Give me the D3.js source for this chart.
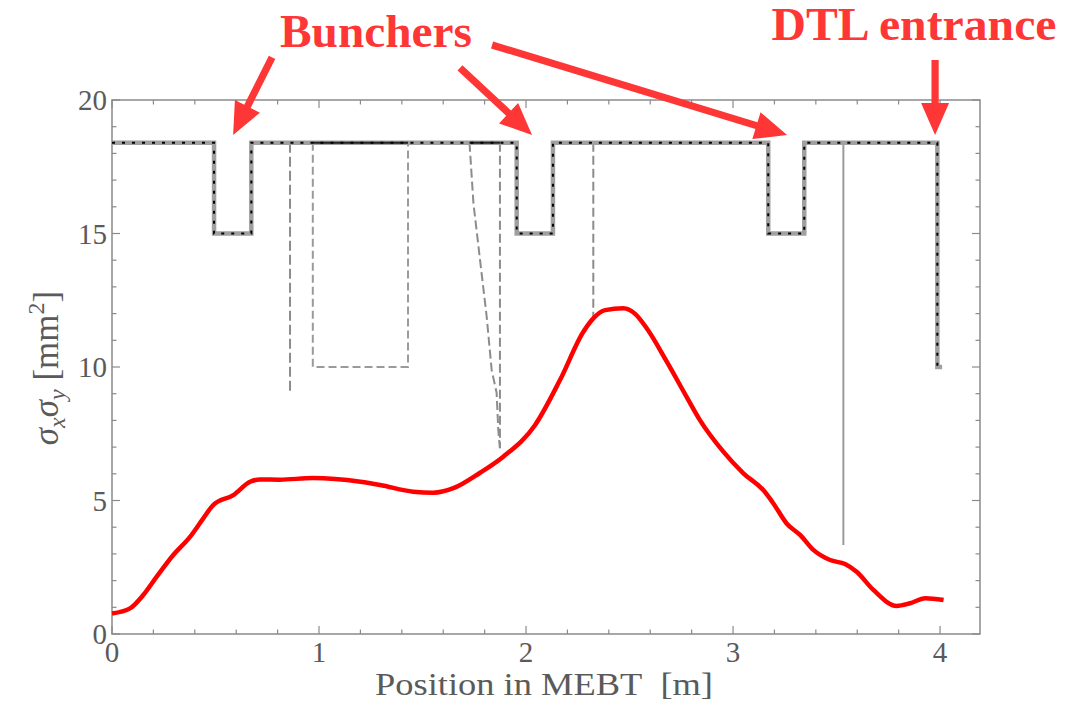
<!DOCTYPE html>
<html>
<head>
<meta charset="utf-8">
<script src="https://cdn.jsdelivr.net/npm/d3@7"></script>
<style>
  body { margin: 0; background: #fff; }
  svg { display: block; }
</style>
</head>
<body>
<svg id="chart" width="1065" height="713"></svg>
<script>
// Beam size product along the MEBT (red curve)
const beamSize = [
  [0, 0.77], [0.087, 0.96], [0.151, 1.46], [0.216, 2.15], [0.296, 2.96], [0.377, 3.64],
  [0.441, 4.33], [0.49, 4.84], [0.586, 5.2], [0.667, 5.7], [0.715, 5.79], [0.81, 5.78],
  [0.97, 5.84], [1.2, 5.7], [1.295, 5.58], [1.455, 5.33], [1.552, 5.29], [1.649, 5.46],
  [1.778, 6.04], [1.89, 6.64], [2.044, 7.83], [2.164, 9.51], [2.277, 11.32], [2.325, 11.82],
  [2.382, 12.13], [2.47, 12.2], [2.527, 11.99], [2.583, 11.45], [2.68, 10.2], [2.775, 8.89],
  [2.84, 8.01], [2.953, 6.83], [3.05, 6.02], [3.146, 5.39], [3.195, 4.89], [3.259, 4.14],
  [3.324, 3.71], [3.388, 3.15], [3.469, 2.77], [3.541, 2.62], [3.597, 2.33], [3.678, 1.65],
  [3.79, 1.05], [3.855, 1.15], [3.928, 1.34], [4.017, 1.27]
];

// Beam pipe aperture with the three bunchers and DTL entrance
const aperture = [
  [0, 18.4], [0.493, 18.4], [0.493, 15], [0.673, 15], [0.673, 18.4],
  [1.955, 18.4], [1.955, 15], [2.13, 15], [2.13, 18.4],
  [3.17, 18.4], [3.17, 15], [3.344, 15], [3.344, 18.4],
  [3.987, 18.4], [3.987, 10], [4.01, 10]
];

// Scrapers / chopper limits
const scraperA = [[0.86, 18.4], [0.86, 9.1]];
const scraperBox = [[0.97, 18.4], [0.97, 10], [1.43, 10], [1.43, 18.4]];
const scraperSlant = [[1.727, 18.4], [1.746, 16.13], [1.778, 14.0], [1.81, 11.88],
  [1.834, 9.89], [1.858, 9.03], [1.866, 7.64], [1.874, 6.95]];
const scraperB = [[1.874, 18.4], [1.874, 6.97]];
const scraperC = [[2.325, 18.4], [2.325, 11.8]];
const scraperD = [[3.533, 18.4], [3.533, 3.33]];
const topSolid = [[[0.97, 18.4], [1.43, 18.4]], [[1.727, 18.4], [1.874, 18.4]]];

const xTicks = [0, 1, 2, 3, 4];
const yTicks = [0, 5, 10, 15, 20];

// Annotation arrows, [start, tip] in data units
const arrows = [
  [[0.773, 21.6], [0.585, 18.69]],
  [[1.681, 21.2], [2.029, 18.69]],
  [[1.836, 22.06], [3.261, 18.69]],
  [[3.976, 21.5], [3.976, 18.69]]
];

const svg = d3.select("#chart");
const plotLeft = 112, plotRight = 980, plotTop = 100, plotBottom = 634;

const x = d3.scaleLinear().domain([0, 4.193]).range([plotLeft, plotRight]);
const y = d3.scaleLinear().domain([0, 20]).range([plotBottom, plotTop]);

const grey = "#8a8a8a";
const textGrey = "#5a5a5a";
const red = "#ff3636";

const line = d3.line().x(d => x(d[0])).y(d => y(d[1]));

// Frame
svg.append("rect")
   .attr("x", plotLeft).attr("y", plotTop)
   .attr("width", plotRight - plotLeft).attr("height", plotBottom - plotTop)
   .style("fill", "none").style("stroke", grey).style("stroke-width", 1.5);

// Ticks (inward on all four sides)
const xMinor = d3.range(0, 4.2, 0.2);
const yMinor = d3.range(0, 21, 1);
const tickG = svg.append("g").style("stroke", grey).style("stroke-width", 1.2);

xMinor.forEach(v => {
  let len = xTicks.some(t => Math.abs(t - v) < 1e-6) ? 8 : 4.5;
  tickG.append("line").attr("x1", x(v)).attr("x2", x(v)).attr("y1", plotBottom).attr("y2", plotBottom - len);
  tickG.append("line").attr("x1", x(v)).attr("x2", x(v)).attr("y1", plotTop).attr("y2", plotTop + len);
});
yMinor.forEach(v => {
  let len = yTicks.includes(v) ? 8 : 4.5;
  tickG.append("line").attr("x1", plotLeft).attr("x2", plotLeft + len).attr("y1", y(v)).attr("y2", y(v));
  tickG.append("line").attr("x1", plotRight).attr("x2", plotRight - len).attr("y1", y(v)).attr("y2", y(v));
});

// Tick labels
const labelFont = "'Liberation Serif', 'Times New Roman', serif";
svg.append("g").selectAll("text").data(xTicks).join("text")
   .attr("x", d => x(d)).attr("y", 662)
   .attr("text-anchor", "middle")
   .style("font-family", labelFont).style("font-size", "29px").style("fill", textGrey)
   .text(d => d);

svg.append("g").selectAll("text").data(yTicks).join("text")
   .attr("x", 107).attr("y", d => y(d) + 10)
   .attr("text-anchor", "end")
   .style("font-family", labelFont).style("font-size", "29px").style("fill", textGrey)
   .text(d => d);

// Axis titles
svg.append("text")
   .attr("x", 544).attr("y", 695)
   .attr("text-anchor", "middle")
   .attr("textLength", 338).attr("lengthAdjust", "spacingAndGlyphs")
   .style("font-family", labelFont).style("font-size", "32px").style("fill", textGrey)
   .text("Position in MEBT\u00a0\u00a0[m]");

let yLab = svg.append("text")
   .attr("transform", "translate(58,368) rotate(-90)")
   .attr("text-anchor", "middle")
   .style("font-family", labelFont).style("font-size", "35px").style("fill", textGrey);
yLab.append("tspan").style("font-style", "italic").text("σ");
yLab.append("tspan").style("font-style", "italic").style("font-size", "24px").attr("dy", 7).text("x");
yLab.append("tspan").style("font-style", "italic").attr("dy", -7).text("σ");
yLab.append("tspan").style("font-style", "italic").style("font-size", "24px").attr("dy", 7).text("y");
yLab.append("tspan").attr("dy", -7).text("\u00a0[mm");
yLab.append("tspan").style("font-size", "24px").attr("dy", -14).text("2");
yLab.append("tspan").attr("dy", 14).text("]");

// Scrapers
const plot = svg.append("g");
plot.append("path").datum(scraperA).attr("d", line)
    .style("fill", "none").style("stroke", "#8c8c8c").style("stroke-width", 2)
    .style("stroke-dasharray", "10 4");
plot.append("path").datum(scraperBox).attr("d", line)
    .style("fill", "none").style("stroke", "#9a9a9a").style("stroke-width", 2)
    .style("stroke-dasharray", "8 4");
plot.append("path").datum(scraperSlant).attr("d", line)
    .style("fill", "none").style("stroke", "#8c8c8c").style("stroke-width", 2)
    .style("stroke-dasharray", "9 4");
plot.append("path").datum(scraperB).attr("d", line)
    .style("fill", "none").style("stroke", "#8c8c8c").style("stroke-width", 2)
    .style("stroke-dasharray", "9 4");
plot.append("path").datum(scraperC).attr("d", line)
    .style("fill", "none").style("stroke", "#8c8c8c").style("stroke-width", 2)
    .style("stroke-dasharray", "9 4");
plot.append("path").datum(scraperD).attr("d", line)
    .style("fill", "none").style("stroke", "#9a9a9a").style("stroke-width", 2);

// Aperture: thick grey with black dotted overlay
plot.append("path").datum(aperture).attr("d", line)
    .style("fill", "none").style("stroke", "#a0a0a0").style("stroke-width", 4.5);
topSolid.forEach(seg => {
  plot.append("path").datum(seg).attr("d", line)
      .style("fill", "none").style("stroke", "#222").style("stroke-width", 2);
});
plot.append("path").datum(aperture).attr("d", line)
    .style("fill", "none").style("stroke", "#000").style("stroke-width", 2)
    .style("stroke-dasharray", "3 7");

// Beam curve
plot.append("path").datum(beamSize)
    .attr("d", d3.line().x(d => x(d[0])).y(d => y(d[1])).curve(d3.curveMonotoneX))
    .style("fill", "none").style("stroke", "#ff0000").style("stroke-width", 4.5)
    .style("stroke-linejoin", "round");

// Annotation arrows
function drawArrow(start, tip) {
  let x0 = x(start[0]), y0 = y(start[1]);
  let x1 = x(tip[0]), y1 = y(tip[1]);
  let dx = x1 - x0, dy = y1 - y0;
  let len = Math.sqrt(dx * dx + dy * dy);
  let ux = dx / len, uy = dy / len;
  let nx = -uy, ny = ux;
  let headLen = 32, headW = 14, shaftW = 3.6;
  let bx = x1 - ux * headLen, by = y1 - uy * headLen;
  let pts = [
    [x0 + nx * shaftW, y0 + ny * shaftW],
    [bx + nx * shaftW, by + ny * shaftW],
    [bx + nx * headW, by + ny * headW],
    [x1, y1],
    [bx - nx * headW, by - ny * headW],
    [bx - nx * shaftW, by - ny * shaftW],
    [x0 - nx * shaftW, y0 - ny * shaftW]
  ];
  svg.append("polygon")
     .attr("points", pts.map(p => p.join(",")).join(" "))
     .style("fill", red);
}
arrows.forEach(a => drawArrow(a[0], a[1]));

// Annotation labels
svg.append("text")
   .attr("x", 376).attr("y", 47)
   .attr("text-anchor", "middle")
   .attr("textLength", 192).attr("lengthAdjust", "spacingAndGlyphs")
   .style("font-family", labelFont).style("font-weight", "bold")
   .style("font-size", "47px").style("fill", red)
   .text("Bunchers");

svg.append("text")
   .attr("x", 914).attr("y", 40)
   .attr("text-anchor", "middle")
   .attr("textLength", 285).attr("lengthAdjust", "spacingAndGlyphs")
   .style("font-family", labelFont).style("font-weight", "bold")
   .style("font-size", "46px").style("fill", red)
   .text("DTL entrance");
</script>
</body>
</html>
